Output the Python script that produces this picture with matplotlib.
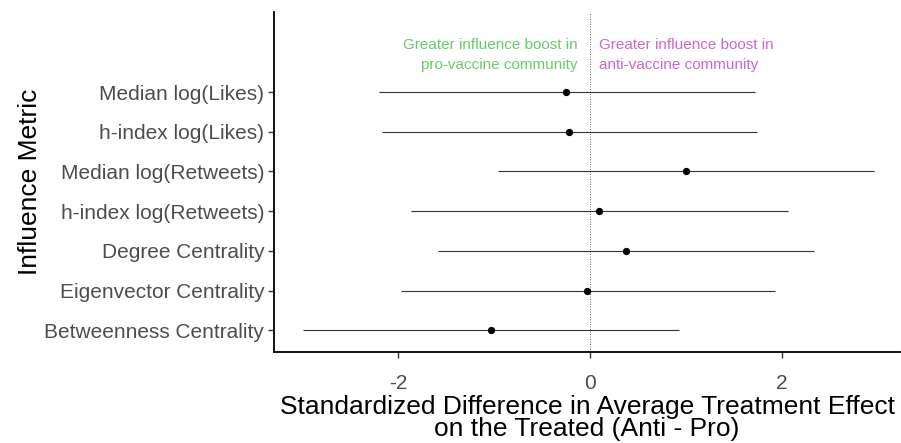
import matplotlib.pyplot as plt
import numpy as np

plt.rcParams['font.family'] = ['Liberation Sans', 'DejaVu Sans']

metrics = ['Betweenness Centrality', 'Eigenvector Centrality', 'Degree Centrality',
           'h-index log(Retweets)', 'Median log(Retweets)', 'h-index log(Likes)',
           'Median log(Likes)']
estimate = [-1.03, -0.03, 0.38, 0.10, 1.00, -0.22, -0.25]
lower = [-2.99, -1.97, -1.58, -1.86, -0.96, -2.17, -2.20]
upper = [0.93, 1.93, 2.33, 2.06, 2.96, 1.74, 1.72]

pro_note = 'Greater influence boost in\npro-vaccine community'
anti_note = 'Greater influence boost in\nanti-vaccine community'

fig = plt.figure(figsize=(9.01, 4.43), dpi=100)
ax = fig.add_axes([274 / 901, 1 - 352 / 443, 626 / 901, 340 / 443])

y = np.arange(1, len(metrics) + 1)
ax.axvline(0, color='#333333', linestyle=(0, (1, 2)), linewidth=0.6, zorder=1)
ax.hlines(y, lower, upper, color='#333333', linewidth=0.8, zorder=2)
ax.scatter(estimate, y, s=18, color='black', zorder=3)

ax.text(-0.13, 7.94, pro_note, color='#66CC66', ha='right', va='center',
        fontsize=11, linespacing=1.6)
ax.text(0.1, 7.94, anti_note, color='#CC66CC', ha='left', va='center',
        fontsize=11, linespacing=1.6)

ax.set_xlim(-3.29, 3.23)
ax.set_ylim(0.45, 9.02)
ax.set_yticks(y)
ax.set_yticklabels(metrics)
ax.set_xticks([-2, 0, 2])
ax.set_xticklabels(['-2', '0', '2'])
ax.tick_params(axis='both', colors='#333333', labelcolor='#4D4D4D',
               labelsize=15, length=4, width=1)
ax.tick_params(axis='x', pad=12)
ax.tick_params(axis='y', pad=3)

for side in ['top', 'right']:
    ax.spines[side].set_visible(False)
for side in ['left', 'bottom']:
    ax.spines[side].set_linewidth(1.3)
    ax.spines[side].set_color('black')

ax.set_ylabel('Influence Metric', fontsize=19, labelpad=2)
ax.set_xlabel('Standardized Difference in Average Treatment Effect\non the Treated (Anti - Pro)',
              fontsize=19, linespacing=0.92, labelpad=1)

fig.savefig('out.png', dpi=100)
